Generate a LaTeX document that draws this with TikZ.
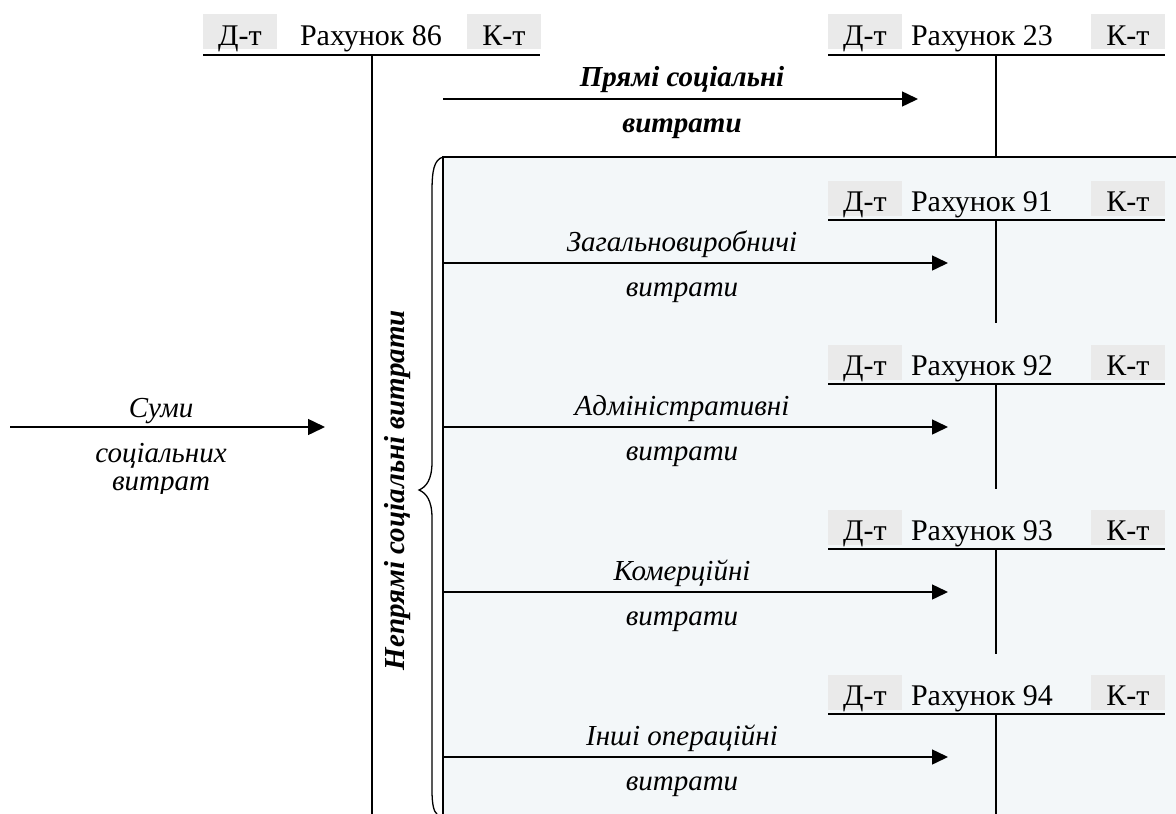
\documentclass[tikz,border=0pt]{standalone}
\usepackage{fontspec}
\setmainfont{Liberation Serif}
\usetikzlibrary{arrows.meta}
\definecolor{boxbg}{HTML}{F3F7F9}
\definecolor{dkbg}{HTML}{EAEAEA}
\begin{document}
\begin{tikzpicture}[x=1pt,y=-1pt,
  acct/.style={font=\fontsize{30}{32}\selectfont, inner sep=0pt, anchor=base},
  dk/.style={fill=dkbg, minimum width=74pt, minimum height=35pt, inner sep=0pt},
  dktext/.style={font=\fontsize{30}{32}\selectfont, inner sep=0pt, anchor=base},
  lbl/.style={font=\fontsize{29}{31}\selectfont\itshape, inner sep=0pt, anchor=base},
  blbl/.style={font=\fontsize{29}{31}\selectfont\bfseries\itshape, inner sep=0pt, anchor=base},
  tline/.style={line width=1.5pt},
  arr/.style={line width=1.5pt, -{Triangle[length=16pt,width=15pt]}},
  bigarr/.style={line width=1.5pt, -{Triangle[length=17pt,width=16pt]}},
]
\useasboundingbox (0,0) rectangle (1176,814);
% background box
\fill[boxbg] (443,157) rectangle (1176,814);
\draw[tline] (1176,157) -- (443,157) -- (443,814);

% Account 86
\node[dk] (bd86) at (240,31) {};
\node[dk] (bk86) at (504,31) {};
\node[dktext] (d86) at (240,45) {Д-т};
\node[dktext] (k86) at (504,45) {К-т};
\node[acct] (r86) at (371,45) {Рахунок 86};
\coordinate (h86l) at (203,55);
\coordinate (h86r) at (540,55);
\coordinate (v86t) at (372,55);
\coordinate (v86b) at (372,814);
\draw[tline] (h86l) -- (h86r);
\draw[tline] (v86t) -- (v86b);

% Account 23
\node[dk] (bd23) at (865,31) {};
\node[dk] (bk23) at (1128,31) {};
\node[dktext] (d23) at (865,45) {Д-т};
\node[dktext] (k23) at (1128,45) {К-т};
\node[acct] (r23) at (982,45) {Рахунок 23};
\coordinate (h23l) at (828,55);
\coordinate (h23r) at (1165,55);
\coordinate (v23t) at (996,55);
\coordinate (v23b) at (996,157);
\draw[tline] (h23l) -- (h23r);
\draw[tline] (v23t) -- (v23b);

% direct costs arrow
\coordinate (pa) at (443,99);
\coordinate (pb) at (918,99);
\draw[arr] (pa) -- (pb);
\node[blbl] (p1) at (682,86) {Прямі соціальні};
\node[blbl] (p2) at (682,132) {витрати};

% Accounts 91-94
\foreach \n/\L/\bot/\ta in {91/220/323/Загальновиробничі, 92/384/489/Адміністративні, 93/549/654/Комерційні, 94/714/814/Інші операційні}{
  \node[dk] (bd\n) at (865,\L-22) {};
  \node[dk] (bk\n) at (1128,\L-22) {};
  \node[dktext] (d\n) at (865,\L-9) {Д-т};
  \node[dktext] (k\n) at (1128,\L-9) {К-т};
  \node[acct] (r\n) at (982,\L-9) {Рахунок \n};
  \coordinate (hl\n) at (828,\L);
  \coordinate (hr\n) at (1165,\L);
  \coordinate (vt\n) at (996,\L);
  \coordinate (vb\n) at (996,\bot);
  \draw[tline] (hl\n) -- (hr\n);
  \draw[tline] (vt\n) -- (vb\n);
  \coordinate (as\n) at (443,\L+43);
  \coordinate (ae\n) at (948,\L+43);
  \draw[arr] (as\n) -- (ae\n);
  \node[lbl] (la\n) at (682,\L+31) {\ta};
  \node[lbl] (lb\n) at (682,\L+76) {витрати};
}

% brace
\draw[line width=1.3pt] (443,157) .. controls (434,160) and (432,170) .. (432,192)
  -- (432,462) .. controls (432,480) and (426,487) .. (419,490)
  .. controls (426,493) and (432,500) .. (432,518)
  -- (432,790) .. controls (432,805) and (434,812) .. (437,814);
\node[blbl, rotate=90] (ind) at (404,490) {Непрямі соціальні витрати};

% left arrow
\coordinate (sa) at (10,427);
\coordinate (sb) at (325,427);
\draw[bigarr] (sa) -- (sb);
\node[lbl] (s1) at (161,417) {Суми};
\node[lbl] (s2) at (161,462) {соціальних};
\begin{scope}
\clip (0,466) rectangle (340,493);
\node[lbl] (s3) at (161,490) {витрат};
\end{scope}
\end{tikzpicture}
\end{document}
